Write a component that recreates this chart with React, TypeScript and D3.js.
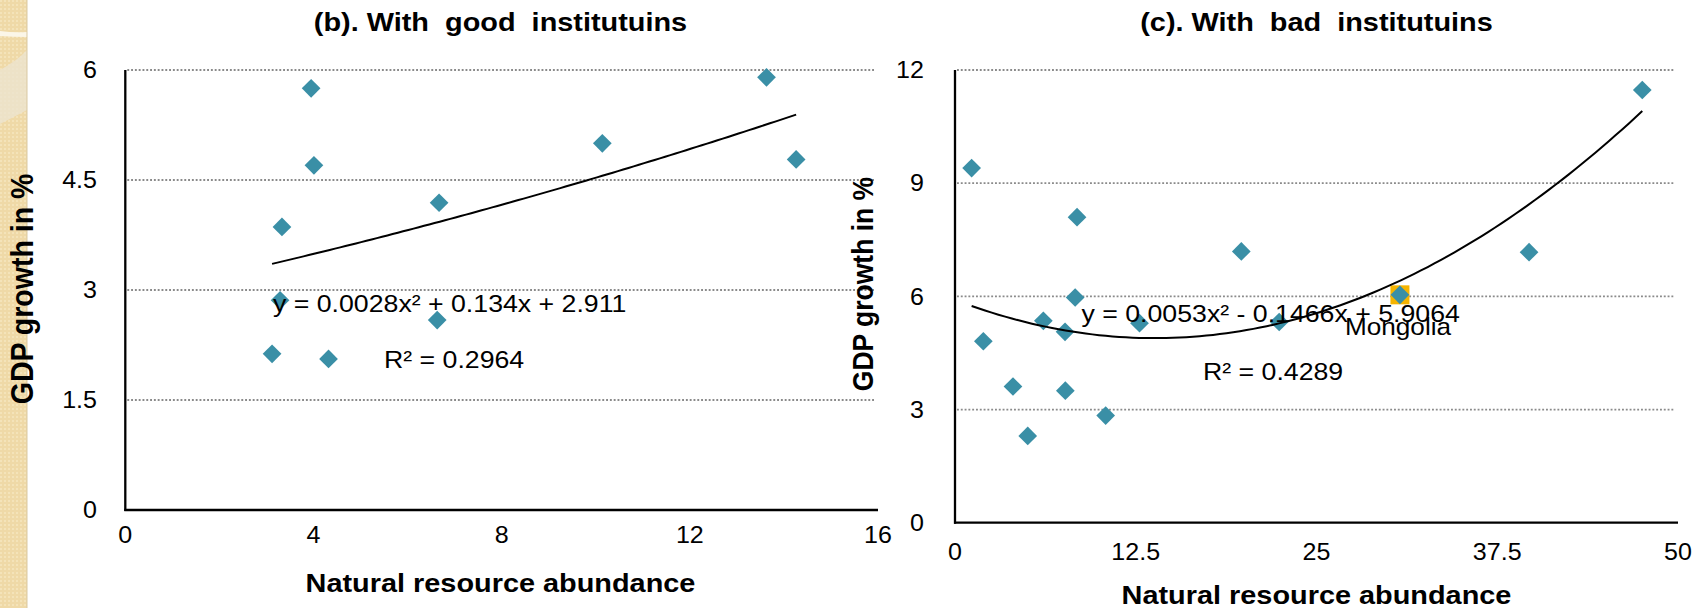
import React from "react";
import * as d3 from "d3";

// ---------- data ----------
const goodX = [3.95, 4.01, 3.33, 6.67, 3.29, 6.63, 3.12, 4.32, 10.14, 13.63, 14.26];
const goodY = [5.75, 4.7, 3.86, 4.19, 2.86, 2.59, 2.13, 2.06, 5.0, 5.9, 4.78];
const goodCoef = [0.0028, 0.134, 2.911];
const goodXTicks = [0, 4, 8, 12, 16];
const goodYTicks = [0, 1.5, 3, 4.5, 6];

const badX = [1.15, 8.44, 19.8, 8.31, 6.11, 7.61, 1.96, 12.76, 22.42, 4.01, 7.63, 5.03, 10.42, 47.53, 39.7];
const badY = [9.4, 8.1, 7.19, 5.97, 5.35, 5.06, 4.81, 5.29, 5.32, 3.61, 3.5, 2.3, 2.84, 11.47, 7.17];
const badCoef = [0.0053, -0.1466, 5.9064];
const badXTicks = [0, 12.5, 25, 37.5, 50];
const badYTicks = [0, 3, 6, 9, 12];

const mongoliaX = [30.77];
const mongoliaY = [6.04];
const mongoliaLabel = ["Mongolia"];

const FONT = "'Liberation Sans', Arial, Helvetica, sans-serif";
const SX = 1.09;
const TEAL = "#3a8fa6";

const T = ({ x, y, size, weight = "normal", anchor = "start", rot = 0, sx = SX, children }: any) => (
  <text
    transform={`translate(${x},${y}) rotate(${rot}) scale(${rot ? 1 : sx},${rot ? sx : 1})`}
    fontSize={size}
    fontWeight={weight}
    textAnchor={anchor}
    fontFamily={FONT}
    fill="#000"
    xmlSpace="preserve"
    style={{ whiteSpace: "pre" }}
  >
    {children}
  </text>
);

const diamond = d3.symbol().type(d3.symbolSquare).size(175)();

function Panel({ cfg }: any) {
  const x = d3.scaleLinear().domain(cfg.xDomain).range(cfg.xRange);
  const y = d3.scaleLinear().domain(cfg.yDomain).range(cfg.yRange);
  const [a, b, c] = cfg.coef;
  const xs = cfg.xs as number[];
  const lo = d3.min(xs)!;
  const hi = d3.max(xs)!;
  const fitPts = d3.range(0, 101).map((i) => {
    const xv = lo + ((hi - lo) * i) / 100;
    return [xv, a * xv * xv + b * xv + c] as [number, number];
  });
  const line = d3
    .line<[number, number]>()
    .x((d) => x(d[0]))
    .y((d) => y(d[1]))
    .curve(d3.curveLinear);
  const x0 = cfg.xRange[0];
  const x1 = cfg.xRange[1];
  const y0 = cfg.yRange[0];
  return (
    <g>
      {cfg.yTicks.filter((t: number) => t !== 0).map((t: number) => (
        <line
          key={"g" + t}
          x1={x0 + 2}
          x2={x1 - 3}
          y1={y(t)}
          y2={y(t)}
          stroke="#8a8a8a"
          strokeWidth={1.8}
          strokeDasharray="1.9 1.9"
        />
      ))}
      <line x1={x0} x2={x0} y1={y(cfg.yDomain[1])} y2={y0 + 1} stroke="#000" strokeWidth={2.3} />
      <line x1={x0 - 1} x2={x1} y1={y0} y2={y0} stroke="#000" strokeWidth={2.3} />
      {cfg.yTicks.map((t: number) => (
        <T key={"yt" + t} x={cfg.yLabelX} y={y(t) + 8.2} size={23} anchor="end">
          {String(t)}
        </T>
      ))}
      {cfg.xTicks.map((t: number) => (
        <T key={"xt" + t} x={x(t)} y={cfg.xTickY} size={23} anchor="middle">
          {String(t)}
        </T>
      ))}
      {xs.map((xv: number, i: number) => (
        <path
          key={"p" + i}
          d={diamond}
          transform={`translate(${x(xv)},${y(cfg.ys[i])}) rotate(45)`}
          fill={TEAL}
        />
      ))}
      {cfg.extraTop && cfg.extraTop(x, y)}
      <path d={line(fitPts)!} fill="none" stroke="#000" strokeWidth={2} />
      <T x={cfg.eqX} y={cfg.eqY} size={24.5}>
        {cfg.eq}
      </T>
      <T x={cfg.r2X} y={cfg.r2Y} size={24.5}>
        {cfg.r2}
      </T>
      <T x={cfg.titleCx} y={cfg.titleY} size={26.5} weight="bold" anchor="middle">
        {cfg.title}
      </T>
      <T x={cfg.titleCx} y={cfg.xLabY} size={26.5} weight="bold" anchor="middle">
        Natural resource abundance
      </T>
      <T x={cfg.yLabX} y={cfg.yLabCy} size={cfg.yLabSize} weight="bold" anchor="middle" rot={-90}>
        GDP growth in %
      </T>
    </g>
  );
}

export default function App() {
  const goodCfg = {
    xDomain: [0, 16],
    yDomain: [0, 6],
    xRange: [125.3, 878],
    yRange: [510, 70],
    xTicks: goodXTicks,
    yTicks: goodYTicks,
    xs: goodX,
    ys: goodY,
    coef: goodCoef,
    yLabelX: 97,
    xTickY: 543,
    eq: "y = 0.0028x² + 0.134x + 2.911",
    eqX: 273,
    eqY: 311.5,
    r2: "R² = 0.2964",
    r2X: 384,
    r2Y: 368,
    title: "(b). With  good  institutuins",
    titleY: 30.7,
    titleCx: 500.5,
    xLabY: 592,
    yLabX: 33,
    yLabCy: 289,
    yLabSize: 28.5,
  };
  const badCfg: any = {
    xDomain: [0, 50],
    yDomain: [0, 12],
    xRange: [955, 1678],
    yRange: [522.7, 70],
    xTicks: badXTicks,
    yTicks: badYTicks,
    xs: badX,
    ys: badY,
    coef: badCoef,
    yLabelX: 924,
    xTickY: 560,
    eq: "y = 0.0053x² - 0.1466x + 5.9064",
    eqX: 1081.5,
    eqY: 321.5,
    r2: "R² = 0.4289",
    r2X: 1203,
    r2Y: 380,
    title: "(c). With  bad  institutuins",
    titleY: 30.7,
    titleCx: 1316.5,
    xLabY: 603.5,
    yLabX: 873,
    yLabCy: 284,
    yLabSize: 26.5,
  };
  badCfg.extraTop = (x: any, y: any) => (
    <g>
      {mongoliaX.map((mx, i) => (
        <g key={"m" + i}>
          <rect x={x(mx) - 9.5} y={y(mongoliaY[i]) - 9.5} width={19} height={19} fill="#f5b400" />
          <path
            d={diamond}
            transform={`translate(${x(mx)},${y(mongoliaY[i])}) rotate(45)`}
            fill={TEAL}
          />
          <T x={x(mx) - 55} y={335} size={24}>
            {mongoliaLabel[i]}
          </T>
        </g>
      ))}
    </g>
  );
  return (
    <svg
      width={1703}
      height={608}
      style={{ position: "fixed", left: 0, top: 0, background: "#fff" }}
    >
      <defs>
        <pattern id="tex" width="4" height="4" patternUnits="userSpaceOnUse">
          <rect width="4" height="4" fill="#efd9a7" />
          <rect width="2" height="2" fill="#f4e3b9" />
        </pattern>
      </defs>
      <rect x={0} y={0} width={27} height={608} fill="url(#tex)" />
      <path d="M0,31 Q14,33 27,32 L27,37 Q14,37 0,36 Z" fill="#fbf6e8" />
      <path d="M0,70 Q18,60 27,50 L27,110 Q12,118 0,124 Z" fill="#ece3cf" opacity={0.8} />
      <line x1={27} x2={27} y1={0} y2={608} stroke="#d9c9a3" strokeWidth={1} />
      <Panel cfg={goodCfg} />
      <Panel cfg={badCfg} />
    </svg>
  );
}
